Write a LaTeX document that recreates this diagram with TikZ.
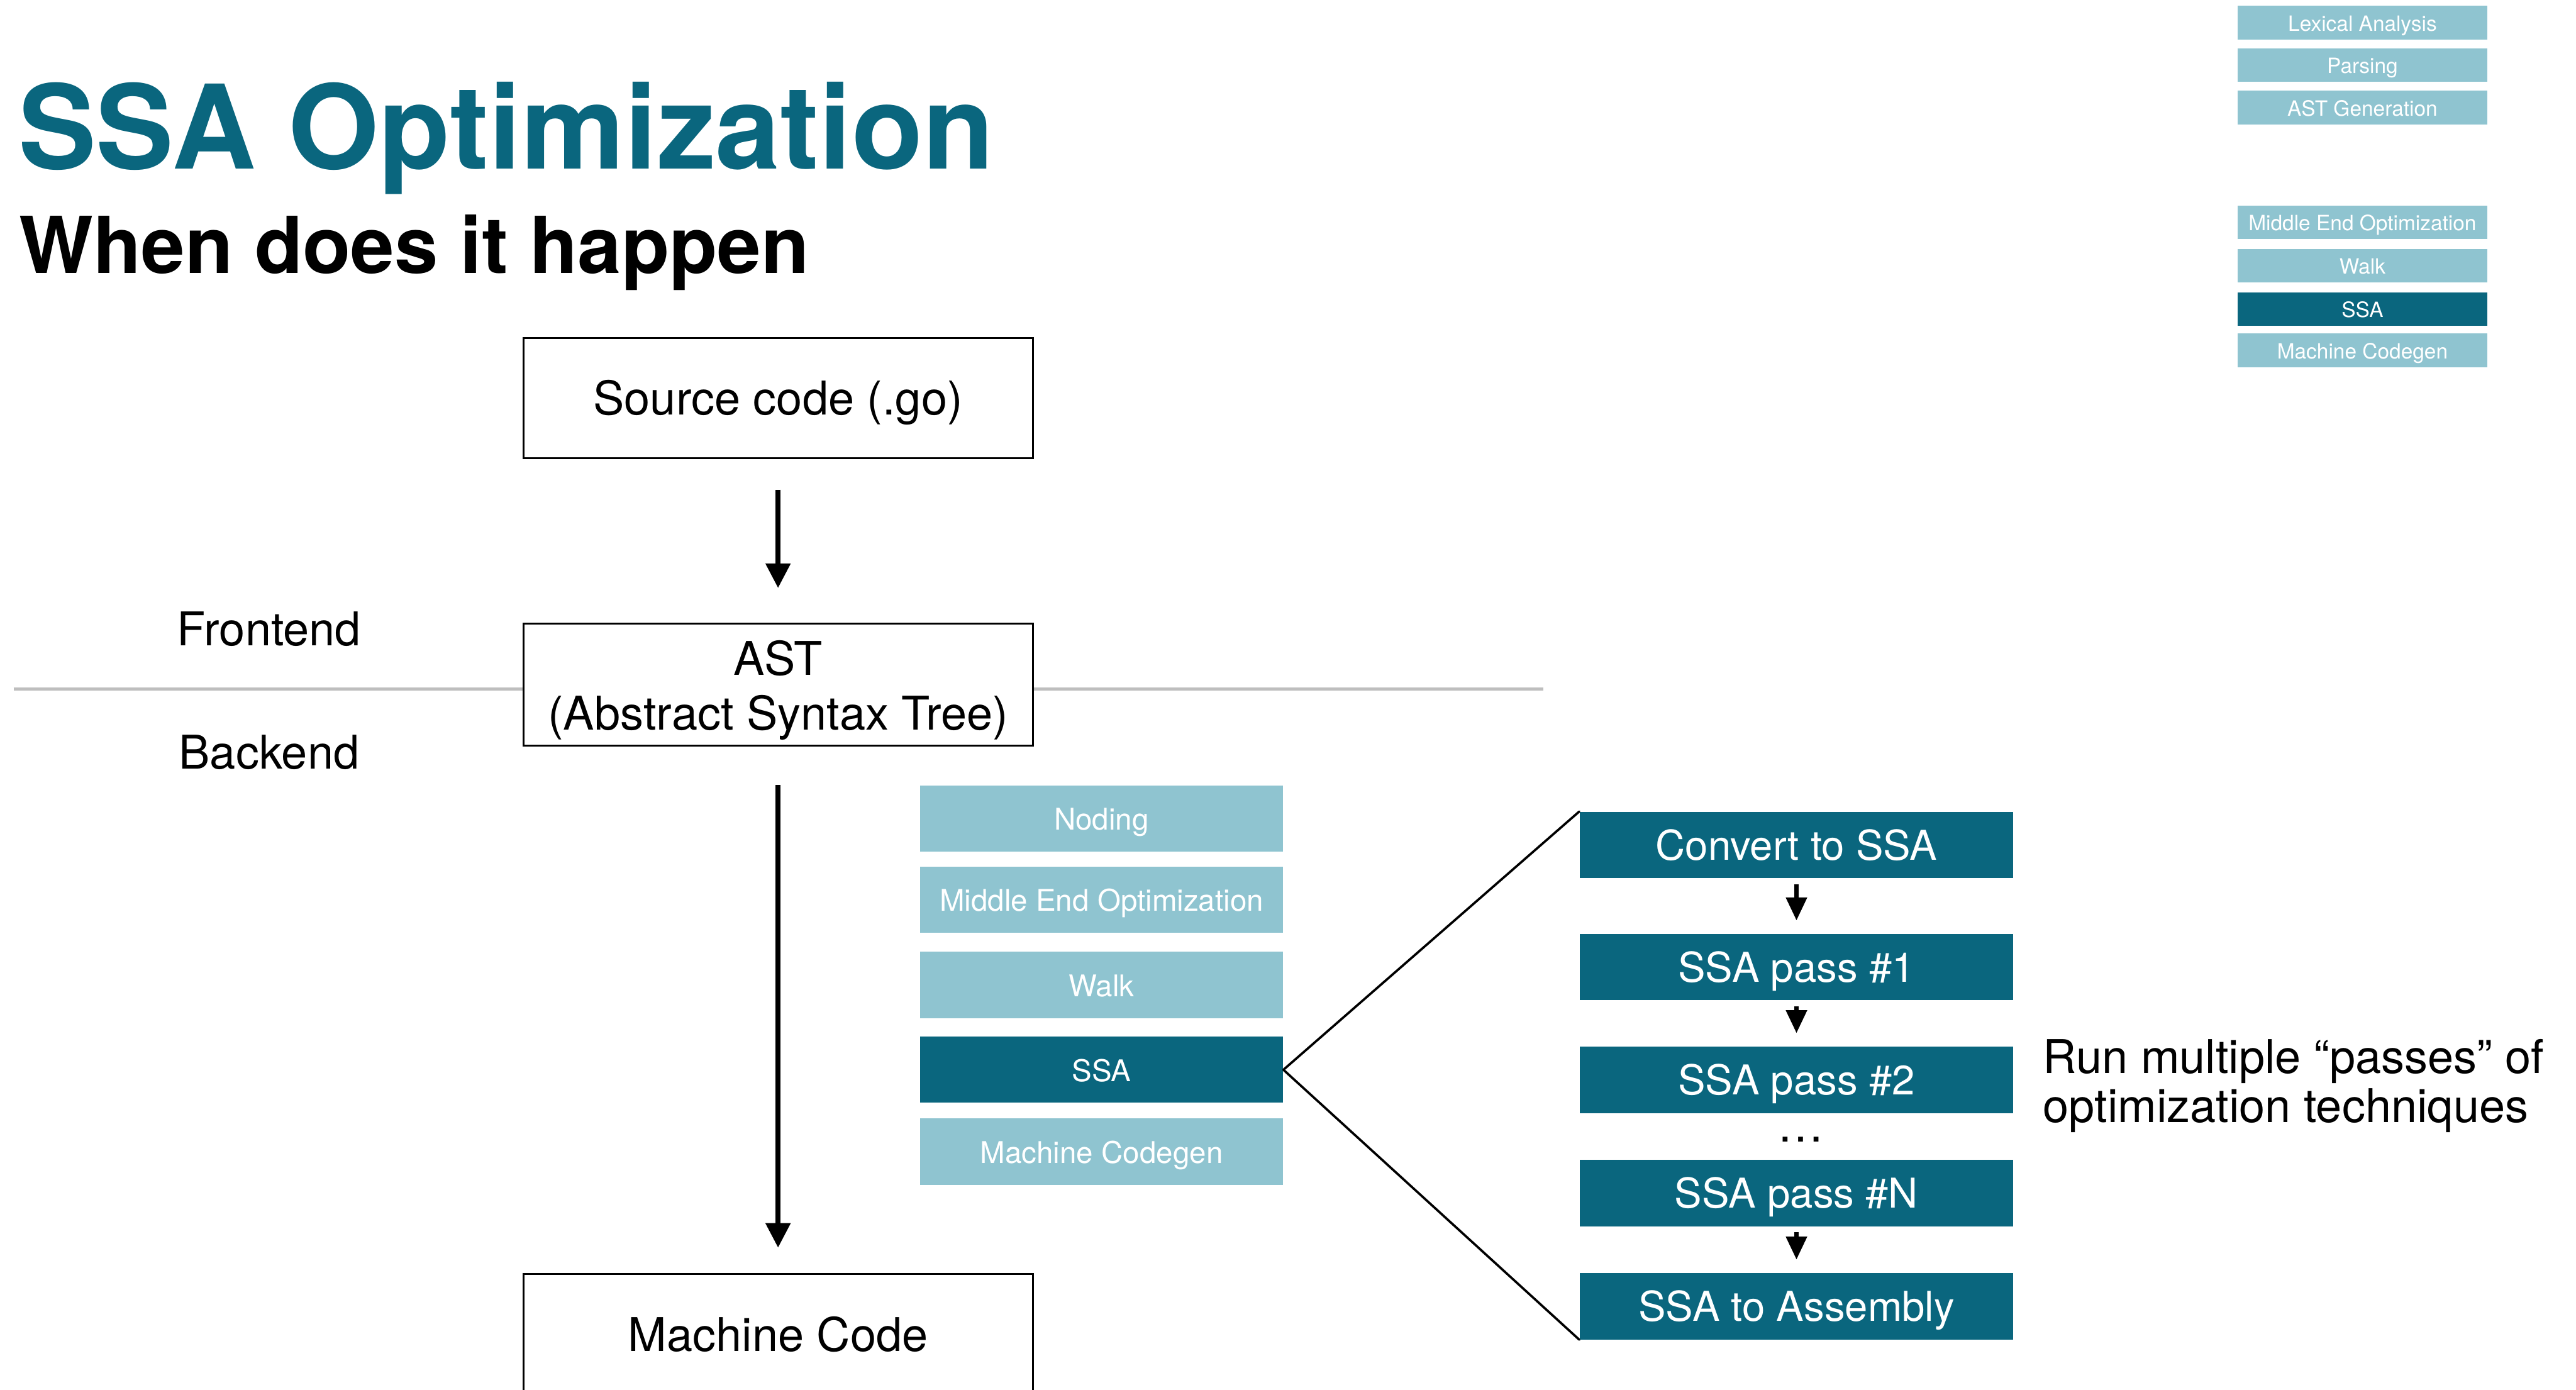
\documentclass[tikz,border=0pt]{standalone}
\usepackage{fontspec}
\setmainfont{TeX Gyre Heros}
\usetikzlibrary{arrows.meta}

\definecolor{ssadark}{HTML}{0A667E}
\definecolor{ssalight}{HTML}{8FC4D0}
\definecolor{divider}{HTML}{BEBEBE}

\newcommand{\fsz}[2]{\fontsize{#1}{#2}\selectfont}

\tikzset{
  % outlined stage boxes of the compiler pipeline
  stagebox/.style={draw=black, line width=1.1pt, fill=white,
    minimum width=310pt, inner sep=0pt, font=\fsz{28.3}{33.5}},
  oneline/.style={text height=20.2pt, text depth=0pt},
  % phase boxes of the backend
  phasebox/.style={fill=ssalight, text=white, minimum width=221pt,
    minimum height=40.3pt, inner sep=0pt, font=\fsz{18.2}{21},
    text height=14pt, text depth=0pt},
  current/.style={fill=ssadark},
  % boxes of the SSA pass chain
  passbox/.style={fill=ssadark, text=white, minimum width=264pt,
    minimum height=40.4pt, inner sep=0pt, font=\fsz{25}{29},
    text height=18pt, text depth=0pt},
  % small overview boxes in the corner
  navbox/.style={fill=ssalight, text=white, minimum width=152.3pt,
    minimum height=20.5pt, inner sep=0pt, font=\fsz{12.8}{14},
    text height=10.2pt, text depth=0pt},
  label/.style={inner sep=0pt, anchor=base, font=\fsz{28.3}{33.5}},
  bigarrow/.style={line width=3.3pt, -{Triangle[length=15pt,width=14.5pt]}},
  smallarrow/.style={line width=2.4pt, -{Triangle[length=14pt,width=12.5pt]},
    shorten <=3.5pt, shorten >=8pt},
  fanline/.style={line width=1.4pt, line cap=round},
}

\begin{document}
\begin{tikzpicture}[x=1pt, y=-1pt]
\useasboundingbox (0,0) rectangle (1568,846);
\clip (0,0) rectangle (1568,846);

% titles
\node[inner sep=0pt, anchor=base west, text=ssadark, font=\fsz{71}{80}\bfseries]
  (title) at (11,102.8) {SSA Optimization};
\node[inner sep=0pt, anchor=base west, font=\fsz{47.8}{54}\bfseries]
  (subtitle) at (11.5,166.3) {When does it happen};

% frontend / backend divider
\draw[divider, line width=1.85pt] (8.3,419.4) -- (939.3,419.4);
\node[label] (front) at (163.8,393) {Frontend};
\node[label] (back) at (163.8,467.8) {Backend};

% main pipeline
\node[stagebox, oneline, minimum height=73pt] (src) at (473.6,242.3) {Source code (.go)};
\node[stagebox, align=center, minimum height=74.2pt] (ast) at (473.6,416.6)
  {\rule{0pt}{28pt}AST\\(Abstract Syntax Tree)};
\node[stagebox, oneline, minimum height=74pt] (mc) at (473.6,812.4) {Machine Code};

\draw[bigarrow, shorten <=18.7pt, shorten >=21pt] (src.south) -- (ast.north);
\draw[bigarrow, shorten <=23.5pt, shorten >=15.4pt] (ast.south) -- (mc.north);

% backend phases
\node[phasebox] (noding) at (670.5,498.3) {Noding};
\node[phasebox] (meo) at (670.5,547.5) {Middle End Optimization};
\node[phasebox] (walk) at (670.5,599.5) {Walk};
\node[phasebox, current] (ssa) at (670.5,651.1) {SSA};
\node[phasebox] (codegen) at (670.5,700.9) {Machine Codegen};

% SSA pass chain
\node[passbox] (conv) at (1093.5,514.3) {Convert to SSA};
\node[passbox] (p1) at (1093.5,588.6) {SSA pass \#1};
\node[passbox] (p2) at (1093.5,657.2) {SSA pass \#2};
\node[label] (dots) at (1096,695) {…};
\node[passbox] (pn) at (1093.5,726.1) {SSA pass \#N};
\node[passbox] (asm) at (1093.5,795) {SSA to Assembly};

\draw[fanline] (ssa.east) -- (conv.north west);
\draw[fanline] (ssa.east) -- (asm.south west);

\draw[smallarrow] (conv.south) -- (p1.north);
\draw[smallarrow] (p1.south) -- (p2.north);
\draw[smallarrow] (pn.south) -- (asm.north);

\node[label, anchor=base west] (note1) at (1243.5,653.3) {Run multiple “passes” of};
\node[label, anchor=base west] (note2) at (1243.5,683.2) {optimization techniques};

% overview of all compiler phases
\node[navbox] (nlex) at (1438,13.85) {Lexical Analysis};
\node[navbox] (npar) at (1438,39.65) {Parsing};
\node[navbox] (nast) at (1438,65.45) {AST Generation};
\node[navbox] (nmeo) at (1438,135.3) {Middle End Optimization};
\node[navbox] (nwalk) at (1438,161.7) {Walk};
\node[navbox, current] (nssa) at (1438,188.2) {SSA};
\node[navbox] (ncg) at (1438,213.25) {Machine Codegen};
\end{tikzpicture}
\end{document}
